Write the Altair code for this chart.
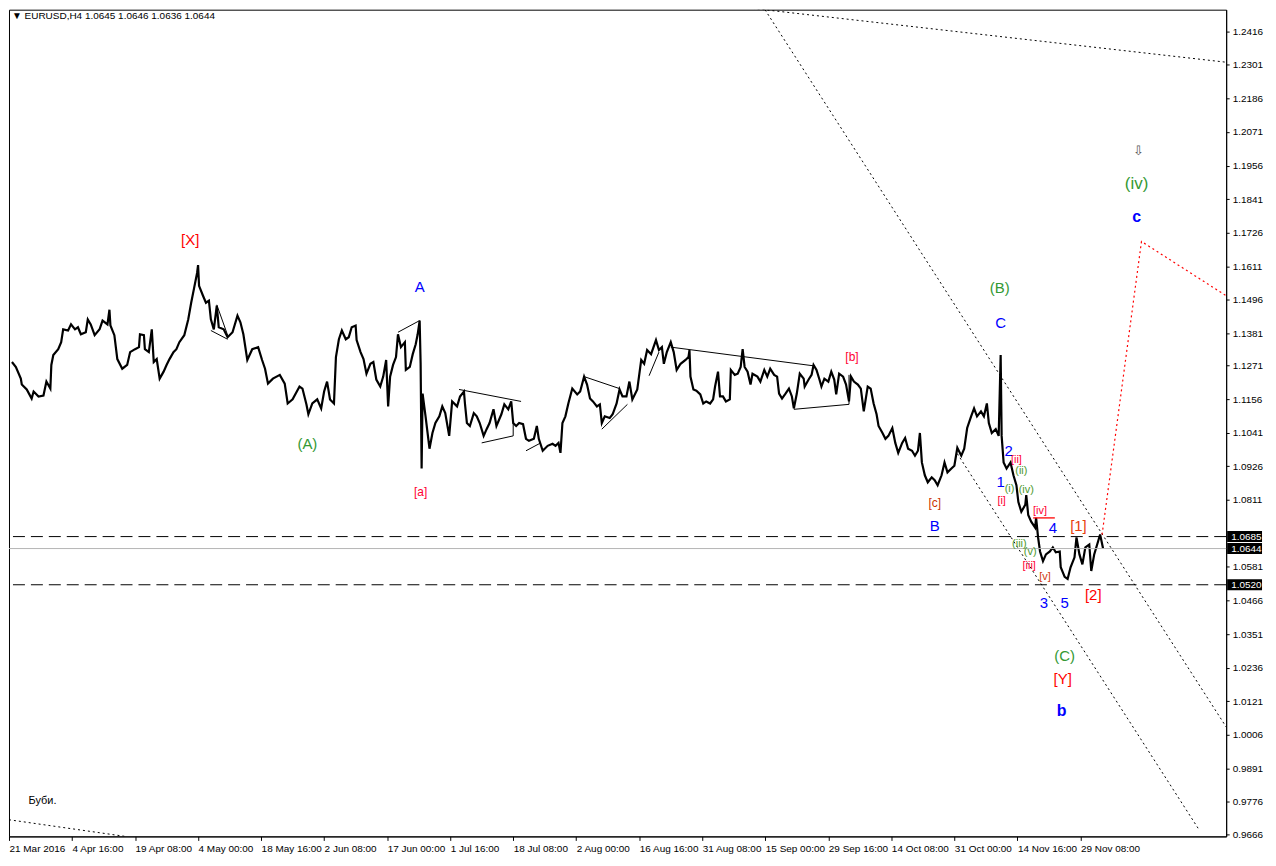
import altair as alt
import pandas as pd

W, H = 1222, 830
X_DOMAIN = [0, 1236]
Y_DOMAIN = [0.9658, 1.2490]
FONT = "'Liberation Sans Narrow', 'Liberation Sans', Arial, sans-serif"
LFONT = "'Liberation Sans', Arial, sans-serif"

# ---- EURUSD H4 closes (bar index, price) ----
wave_mar_may = [(3,1.1283),(7,1.1266),(12,1.1226),(13,1.1206),(18,1.1189),(23,1.1158),(25,1.1182),(30,1.1165),(35,1.1168),(38,1.1216),(42,1.1192),(43,1.1273),(45,1.1307),(50,1.1327),(53,1.1351),(55,1.1395),(60,1.1391),(63,1.1412),(67,1.1395),(70,1.1402),(73,1.1378),(78,1.1385),(80,1.1429),(83,1.1412),(87,1.1375),(92,1.1395),(95,1.1425),(100,1.1412),(102,1.1462),(103,1.1408),(107,1.1375),(110,1.1293),(115,1.1260),(120,1.1273),(123,1.1317),(128,1.1327),(132,1.1334),(133,1.1378),(137,1.1375),(138,1.1327),(142,1.1317),(145,1.1395),(147,1.1283),(150,1.1293),(153,1.1226),(157,1.1250),(160,1.1273),(163,1.1293),(167,1.1317),(170,1.1327),(173,1.1351),(178,1.1375),(182,1.1429),(185,1.1486),(188,1.1537),(191,1.1588),(192,1.1615),(193,1.1544),(197,1.1510),(200,1.1486),(203,1.1493),(205,1.1429),(208,1.1395),(211,1.1476),(213,1.1402),(218,1.1395),(222,1.1368),(227,1.1385)]
wave_may_jun = [(232,1.1442),(235,1.1419),(238,1.1378),(242,1.1290),(247,1.1327),(253,1.1334),(257,1.1290),(260,1.1260),(263,1.1209),(268,1.1226),(275,1.1239),(280,1.1209),(283,1.1141),(288,1.1155),(295,1.1199),(298,1.1192),(302,1.1138),(304,1.1104),(308,1.1141),(313,1.1155),(317,1.1124),(320,1.1182),(323,1.1216),(326,1.1155),(330,1.1141),(332,1.1300),(335,1.1361),(338,1.1391),(342,1.1361),(345,1.1368),(348,1.1402),(352,1.1408),(353,1.1358),(357,1.1317),(360,1.1293),(363,1.1243),(367,1.1277),(370,1.1283),(373,1.1223),(377,1.1199),(380,1.1233),(383,1.1290),(385,1.1131),(387,1.1233),(390,1.1273),(393,1.1300),(395,1.1378),(398,1.1334),(402,1.1351),(403,1.1256),(407,1.1266),(410,1.1310),(413,1.1344),(415,1.1378),(417,1.1425),(418,1.1277),(419,1.0918),(420,1.1175),(423,1.1097),(427,1.0986),(430,1.1040),(433,1.1074),(437,1.1097)]
wave_jun_aug = [(440,1.1131),(443,1.1108),(447,1.1030),(450,1.1148),(455,1.1131),(458,1.1165),(462,1.1182),(463,1.1141),(465,1.1074),(468,1.1064),(472,1.1108),(475,1.1097),(478,1.1074),(482,1.1030),(485,1.1053),(488,1.1074),(492,1.1121),(495,1.1064),(500,1.1104),(503,1.1138),(507,1.1121),(510,1.1148),(512,1.1074),(515,1.1064),(518,1.1074),(522,1.1070),(525,1.1020),(528,1.1013),(533,1.1020),(536,1.1064),(538,1.1020),(542,1.0979),(547,1.0996),(552,1.1003),(555,1.0996),(558,1.1006),(560,1.0972),(562,1.1074),(565,1.1097),(568,1.1141),(572,1.1192),(577,1.1172),(580,1.1182),(584,1.1233),(587,1.1206),(590,1.1158),(593,1.1148),(597,1.1131),(600,1.1138),(602,1.1074),(605,1.1097),(610,1.1091),(613,1.1104),(617,1.1141),(620,1.1189),(623,1.1165),(627,1.1165),(630,1.1216),(633,1.1155),(638,1.1189),(642,1.1290),(645,1.1277),(648,1.1324),(652,1.1310),(657,1.1358)]
wave_aug_oct = [(660,1.1324),(663,1.1334),(665,1.1277),(668,1.1317),(672,1.1351),(675,1.1317),(678,1.1256),(682,1.1277),(687,1.1290),(690,1.1300),(691,1.1324),(692,1.1233),(695,1.1189),(698,1.1185),(702,1.1172),(705,1.1141),(708,1.1148),(712,1.1141),(715,1.1155),(717,1.1199),(720,1.1250),(722,1.1165),(725,1.1165),(728,1.1148),(732,1.1155),(733,1.1256),(737,1.1239),(740,1.1243),(743,1.1266),(745,1.1327),(747,1.1266),(750,1.1250),(753,1.1206),(755,1.1243),(760,1.1233),(763,1.1216),(767,1.1256),(770,1.1233),(773,1.1260),(777,1.1239),(780,1.1233),(782,1.1175),(785,1.1158),(788,1.1172),(792,1.1192),(795,1.1165),(797,1.1124),(800,1.1175),(803,1.1243),(807,1.1226),(808,1.1199),(812,1.1223),(815,1.1239),(817,1.1273),(820,1.1256),(823,1.1223),(825,1.1199),(828,1.1226),(832,1.1216),(835,1.1250),(838,1.1223),(840,1.1172),(843,1.1243),(847,1.1233),(850,1.1206),(853,1.1148),(855,1.1233),(858,1.1216),(862,1.1206),(865,1.1192),(868,1.1114),(872,1.1199),(875,1.1192),(878,1.1141)]
wave_oct_dec = [(881,1.1104),(883,1.1064),(887,1.1040),(890,1.1020),(893,1.1030),(897,1.1057),(900,1.1006),(903,1.0972),(907,1.1006),(910,1.1023),(913,1.0986),(917,1.0979),(920,1.0962),(923,1.0979),(925,1.1040),(927,1.0939),(930,1.0895),(933,1.0871),(937,1.0888),(940,1.0878),(943,1.0861),(947,1.0895),(950,1.0939),(953,1.0905),(957,1.0918),(960,1.0928),(963,1.0989),(967,1.0962),(970,1.0986),(973,1.1057),(977,1.1097),(980,1.1124),(983,1.1097),(987,1.1114),(990,1.1097),(993,1.1141),(995,1.1074),(998,1.1040),(1002,1.1053),(1005,1.1030),(1007,1.1307),(1008,1.1030),(1010,1.0939),(1013,1.0918),(1017,1.0939),(1020,1.0895),(1023,1.0861),(1025,1.0803),(1028,1.0770),(1032,1.0794),(1033,1.0827),(1035,1.0759),(1038,1.0736),(1042,1.0716),(1043,1.0749),(1045,1.0682),(1047,1.0634),(1050,1.0601),(1053,1.0624),(1057,1.0634),(1060,1.0648),(1063,1.0631),(1067,1.0634),(1068,1.0580),(1072,1.0547),(1075,1.0540),(1078,1.0580),(1082,1.0614),(1084,1.0682),(1087,1.0624),(1090,1.0590),(1093,1.0648),(1097,1.0658),(1099,1.0567),(1102,1.0624),(1105,1.0658),(1108,1.0692),(1111,1.0644)]

# ---- axes ----
x_tick_bars = [0, 64, 128, 192, 256, 320, 384, 448, 512, 576, 640, 704, 768, 832, 896, 960, 1024, 1088]
x_tick_labels = ["21 Mar 2016", "4 Apr 16:00", "19 Apr 08:00", "4 May 00:00", "18 May 16:00", "2 Jun 08:00",
                 "17 Jun 00:00", "1 Jul 16:00", "18 Jul 08:00", "2 Aug 00:00", "16 Aug 16:00", "31 Aug 08:00",
                 "15 Sep 00:00", "29 Sep 16:00", "14 Oct 08:00", "31 Oct 00:00", "14 Nov 16:00", "29 Nov 08:00"]
y_tick_values = [1.2416, 1.2301, 1.2186, 1.2071, 1.1956, 1.1841, 1.1726, 1.1611, 1.1496, 1.1381, 1.1271, 1.1156,
                 1.1041, 1.0926, 1.0811, 1.0581, 1.0466, 1.0351, 1.0236, 1.0121, 1.0006, 0.9891, 0.9776, 0.9666]

# ---- horizontal levels ----
dashed_levels = [1.0685, 1.0520]
current_price = [1.0644]
box_levels = [1.0685, 1.0644, 1.0520]
box_texts = ["1.0685", "1.0644", "1.0520"]

# ---- dotted trend lines (bar, price) -> (bar, price) ----
trend_x1 = [730, 765, 963, 0]
trend_p1 = [1.2504, 1.2504, 1.0969, 0.9715]
trend_x2 = [1236, 1236, 1209, 118]
trend_p2 = [1.2310, 1.0033, 0.9678, 0.9658]

# ---- red projected path ----
proj_bars = [1110, 1150, 1236]
proj_prices = [1.0692, 1.1696, 1.1510]

# ---- thin black triangle / channel lines ----
tri_x1 = [211, 205, 395, 457, 480, 512, 525, 584, 602, 650, 672, 797, 853]
tri_p1 = [1.1479, 1.1391, 1.1385, 1.1189, 1.1006, 1.1030, 1.0979, 1.1233, 1.1053, 1.1236, 1.1334, 1.1121, 1.1239]
tri_x2 = [222, 222, 417, 520, 512, 512, 540, 620, 628, 660, 817, 853, 853]
tri_p2 = [1.1375, 1.1361, 1.1425, 1.1148, 1.1030, 1.1074, 1.1006, 1.1192, 1.1138, 1.1317, 1.1270, 1.1138, 1.1138]
red_mark_x = [1040, 1062]
red_mark_p = [1.0749, 1.0749]

# ---- wave labels ----
label_text = ["[X]", "A", "(A)", "[a]", "[b]", "[c]", "B", "(B)", "C", "2", "[ii]", "(ii)", "1", "(i)", "(iv)",
              "[i]", "[iv]", "4", "[1]", "(iii)", "(v)", "[iii]", "[v]", "3", "5", "[2]", "(C)", "[Y]", "(iv)",
              "Буби.", "⇩"]
label_bar = [184, 417, 303, 418, 856, 940, 940, 1006, 1007, 1015, 1023, 1028, 1007, 1016, 1033,
             1008, 1047, 1060, 1086, 1026, 1037, 1036, 1052, 1051, 1072, 1101, 1072, 1070, 1145,
             34, 1147]
label_price = [1.1700, 1.1540, 1.1003, 1.0837, 1.1300, 1.0800, 1.0722, 1.1537, 1.1415, 1.0979, 1.0949, 1.0908,
               1.0871, 1.0847, 1.0844, 1.0807, 1.0773, 1.0716, 1.0722, 1.0658, 1.0631, 1.0584, 1.0547, 1.0459,
               1.0459, 1.0486, 1.0276, 1.0198, 1.1892, 0.9779, 1.2007]
label_color = ["#ff0000", "#0000ff", "#339933", "#ff0033", "#ff0033", "#cc3300", "#0000ff", "#339933", "#0000ff",
               "#0000ff", "#ff0033", "#4d9a2e", "#0000ff", "#4d9a2e", "#4d9a2e", "#ff0033", "#ff0033", "#0000ff",
               "#e8400c", "#4d9a2e", "#4d9a2e", "#ff0033", "#d03a10", "#0000ff", "#0000ff", "#ff0000", "#339933",
               "#ff0000", "#339933", "#000000", "#555555"]
label_size = [15, 15, 15, 12, 12, 12, 15, 15, 15, 15, 11, 11, 15, 11, 11, 11, 11, 15, 15, 11, 11, 11, 11, 15, 15,
              15, 15, 15, 17, 11, 13]
bold_text = ["b", "c"]
bold_bar = [1069, 1145]
bold_price = [1.0087, 1.1780]

header = "▼ EURUSD,H4  1.0645 1.0646 1.0636 1.0644"

# ================= build =================
price = pd.DataFrame(wave_mar_may + wave_may_jun + wave_jun_aug + wave_aug_oct + wave_oct_dec,
                     columns=["bar", "price"])
xs = alt.Scale(domain=X_DOMAIN, nice=False, zero=False)
ys = alt.Scale(domain=Y_DOMAIN, nice=False, zero=False)

expr = "".join(f"datum.value == {b} ? '{t}' : " for b, t in zip(x_tick_bars, x_tick_labels)) + "''"

x_axis = alt.Axis(values=x_tick_bars, labelExpr=expr, title=None, grid=False, tickSize=4, labelAlign="left",
                  labelPadding=3, labelFontSize=10, labelFont=FONT, labelColor="black", domainColor="black",
                  tickColor="black", labelOverlap=False, labelFlush=False, labelBaseline="top")
y_axis = alt.Axis(orient="right", values=y_tick_values, format=".4f", title=None, grid=False, tickSize=3,
                  labelPadding=3, labelFontSize=10, labelFont=FONT, labelColor="black", domainColor="black",
                  tickColor="black", labelOverlap=False, labelFlush=False, labelAlign="left")


def X(field):
    return alt.X(field, scale=xs, axis=x_axis, title=None)


def Y(field):
    return alt.Y(field, scale=ys, axis=y_axis, title=None)


line = alt.Chart(price).mark_line(color="black", strokeWidth=2.2, clip=True).encode(
    x=X("bar:Q"), y=Y("price:Q"))

dashed = alt.Chart(pd.DataFrame({"level": dashed_levels})).mark_rule(
    color="black", strokeDash=[12, 6], strokeWidth=1).encode(y=Y("level:Q"))
cur = alt.Chart(pd.DataFrame({"level": current_price})).mark_rule(
    color="#b4b4b4", strokeWidth=1).encode(y=Y("level:Q"))

trend_df = pd.DataFrame({"x1": trend_x1, "p1": trend_p1, "x2": trend_x2, "p2": trend_p2})
trends = alt.Chart(trend_df).mark_rule(color="black", strokeDash=[2, 3], strokeWidth=1, clip=True).encode(
    x=X("x1:Q"), y=Y("p1:Q"), x2="x2:Q", y2="p2:Q")

tri_df = pd.DataFrame({"x1": tri_x1, "p1": tri_p1, "x2": tri_x2, "p2": tri_p2})
tris = alt.Chart(tri_df).mark_rule(color="black", strokeWidth=1).encode(
    x=X("x1:Q"), y=Y("p1:Q"), x2="x2:Q", y2="p2:Q")

red_df = pd.DataFrame({"bar": red_mark_x, "price": red_mark_p})
red_mark = alt.Chart(red_df).mark_line(color="#ff0000", strokeWidth=1.3).encode(
    x=X("bar:Q"), y=Y("price:Q"))

proj_df = pd.DataFrame({"bar": proj_bars, "price": proj_prices})
proj = alt.Chart(proj_df).mark_line(color="#ff0000", strokeDash=[2, 3], strokeWidth=1.2, clip=True).encode(
    x=X("bar:Q"), y=Y("price:Q"))

lab_df = pd.DataFrame({"t": label_text, "bar": label_bar, "price": label_price,
                       "c": label_color, "s": label_size})
labels = alt.Chart(lab_df).mark_text(font=LFONT, align="center", baseline="middle").encode(
    x=X("bar:Q"), y=Y("price:Q"),
    text="t:N", color=alt.Color("c:N", scale=None), size=alt.Size("s:Q", scale=None))

bold_df = pd.DataFrame({"t": bold_text, "bar": bold_bar, "price": bold_price})
bolds = alt.Chart(bold_df).mark_text(font=LFONT, align="center", baseline="middle", fontSize=16,
                                      fontWeight="bold", color="#0000ff").encode(
    x=X("bar:Q"), y=Y("price:Q"), text="t:N")

box_df = pd.DataFrame({"level": box_levels, "t": box_texts})
boxes = alt.Chart(box_df).mark_rule(color="black", strokeWidth=11).encode(
    x=alt.value(W + 1), x2=alt.value(W + 36), y=Y("level:Q"))
box_txt = alt.Chart(box_df).mark_text(color="white", align="left", baseline="middle", fontSize=10,
                                       font=FONT).encode(
    x=alt.value(W + 5), y=Y("level:Q"), text="t:N")

head = alt.Chart(pd.DataFrame({"t": [header]})).mark_text(
    align="left", baseline="middle", fontSize=10, font=FONT, color="black").encode(
    x=alt.value(3), y=alt.value(6), text="t:N")

chart = alt.layer(line, cur, dashed, trends, tris, red_mark, proj, labels, bolds, boxes, box_txt, head).properties(
    width=W, height=H, padding=0, background="white"
).configure_view(stroke="black", strokeWidth=1)

chart.save("out.html", embed_options={"renderer": "svg", "actions": False})
